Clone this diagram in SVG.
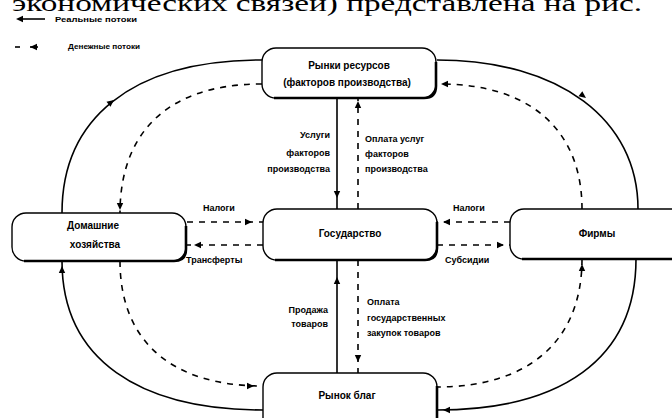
<svg xmlns="http://www.w3.org/2000/svg" xmlns:xlink="http://www.w3.org/1999/xlink" width="672" height="418" viewBox="0 0 672 418">
<style>
.box{fill:#fff;stroke:#000;stroke-width:1.4}
.sh{fill:none;stroke:#000;stroke-width:2.6}
.s{fill:none;stroke:#000;stroke-width:1.6}
.d{fill:none;stroke:#000;stroke-width:1.6;stroke-dasharray:6 6}
.nt{font-family:"Liberation Sans",Arial,sans-serif;font-size:10px;font-weight:bold;text-anchor:middle;fill:#000}
.lb{font-family:"Liberation Sans",Arial,sans-serif;font-size:9px;font-weight:bold;fill:#000}
.lg{font-family:"Liberation Sans",Arial,sans-serif;font-size:7px;font-weight:bold;fill:#000}
.hd{font-family:"Liberation Serif","Times New Roman",serif;font-size:24px;fill:#000}
</style>
<defs>
<path id="ah" d="M0,0 L-7,-3.2 L-7,3.2 Z" fill="#000"/>
</defs>
<text class="hd" x="12" y="11" textLength="630" lengthAdjust="spacingAndGlyphs">экономических связей) представлена на рис.</text>
<g id="legend">
<use xlink:href="#ah" transform="translate(16,19) rotate(180)"/>
<line class="s" x1="22" y1="19" x2="45" y2="19"/>
<text class="lg" x="55" y="22" textLength="82" lengthAdjust="spacingAndGlyphs">Реальные потоки</text>
<line class="s" x1="15" y1="47" x2="20" y2="47"/>
<line class="s" x1="30" y1="47" x2="38" y2="47"/>
<use xlink:href="#ah" transform="translate(30,47) rotate(180)"/>
<text class="lg" x="68" y="49" textLength="72" lengthAdjust="spacingAndGlyphs">Денежные потоки</text>
</g>
<g id="connectors">
<path class="s" d="M262 60 C130 60 62 120 62 213"/>
<path class="d" d="M262 84 C160 84 120 140 120 213"/>
<path class="s" d="M437 60 C560 60 638 120 638 209"/>
<path class="d" d="M582 209 C582 130 530 84 440 84"/>
<path class="s" d="M62 261 C62 360 140 410 263 410"/>
<path class="d" d="M120 261 C120 340 170 386 263 386"/>
<path class="s" d="M636 259 C636 360 560 410 437 410"/>
<path class="d" d="M582 259 C582 340 530 387 437 387"/>
<line class="s" x1="337" y1="98" x2="337" y2="209"/>
<line class="d" x1="358" y1="209" x2="358" y2="98"/>
<line class="s" x1="337" y1="260" x2="337" y2="373"/>
<line class="d" x1="358" y1="260" x2="358" y2="373"/>
<line class="d" x1="187" y1="222" x2="263" y2="222"/>
<line class="d" x1="263" y1="245" x2="187" y2="245"/>
<line class="d" x1="510" y1="222" x2="437" y2="222"/>
<line class="d" x1="437" y1="245" x2="510" y2="245"/>
<use xlink:href="#ah" transform="translate(114,100) rotate(-38)"/>
<use xlink:href="#ah" transform="translate(120,210) rotate(90)"/>
<use xlink:href="#ah" transform="translate(586,98) rotate(37)"/>
<use xlink:href="#ah" transform="translate(441,84) rotate(180)"/>
<use xlink:href="#ah" transform="translate(337,198) rotate(90)"/>
<use xlink:href="#ah" transform="translate(358,101) rotate(-90)"/>
<use xlink:href="#ah" transform="translate(337,277) rotate(-90)"/>
<use xlink:href="#ah" transform="translate(358,362) rotate(90)"/>
<use xlink:href="#ah" transform="translate(62,266) rotate(-90)"/>
<use xlink:href="#ah" transform="translate(254,386)"/>
<use xlink:href="#ah" transform="translate(443,410) rotate(180)"/>
<use xlink:href="#ah" transform="translate(582,264) rotate(-90)"/>
<use xlink:href="#ah" transform="translate(252,222)"/>
<use xlink:href="#ah" transform="translate(194,245) rotate(180)"/>
<use xlink:href="#ah" transform="translate(443,222) rotate(180)"/>
<use xlink:href="#ah" transform="translate(504,245)"/>
</g>
<g id="labels">
<text class="lb" x="330" y="138" text-anchor="end">Услуги</text>
<text class="lb" x="330" y="156" text-anchor="end">факторов</text>
<text class="lb" x="330" y="172" text-anchor="end">производства</text>
<text class="lb" x="365" y="142">Оплата услуг</text>
<text class="lb" x="365" y="157">факторов</text>
<text class="lb" x="365" y="172">производства</text>
<text class="lb" x="328" y="313" text-anchor="end">Продажа</text>
<text class="lb" x="328" y="327" text-anchor="end">товаров</text>
<text class="lb" x="367" y="305">Оплата</text>
<text class="lb" x="367" y="321">государственных</text>
<text class="lb" x="367" y="336">закупок товаров</text>
<text class="lb" x="203" y="211">Налоги</text>
<text class="lb" x="186" y="263">Трансферты</text>
<text class="lb" x="453" y="211">Налоги</text>
<text class="lb" x="445" y="263">Субсидии</text>
</g>
<g id="n-resources">
<rect class="box" x="262" y="48" width="174" height="50" rx="14"/>
<path class="sh" d="M274 98 L424 98 Q436 98 436 86 L436 62"/>
<text class="nt" x="349" y="69">Рынки ресурсов</text>
<text class="nt" x="347" y="86">(факторов производства)</text>
</g>
<g id="n-households">
<rect class="box" x="12" y="213" width="174" height="48" rx="14"/>
<path class="sh" d="M24 261 L174 261 Q186 261 186 249 L186 226"/>
<text class="nt" x="93" y="229">Домашние</text>
<text class="nt" x="95" y="248">хозяйства</text>
</g>
<g id="n-government">
<rect class="box" x="263" y="209" width="174" height="51" rx="14"/>
<path class="sh" d="M275 260 L425 260 Q437 260 437 248 L437 222"/>
<text class="nt" x="350" y="237">Государство</text>
</g>
<g id="n-firms">
<rect class="box" x="510" y="209" width="180" height="50" rx="14"/>
<path class="sh" d="M522 259 L690 259"/>
<text class="nt" x="597" y="237">Фирмы</text>
</g>
<g id="n-goods">
<rect class="box" x="263" y="373" width="174" height="60" rx="14"/>
<path class="sh" d="M437 386 L437 418"/>
<text class="nt" x="347" y="399">Рынок благ</text>
</g>
</svg>
